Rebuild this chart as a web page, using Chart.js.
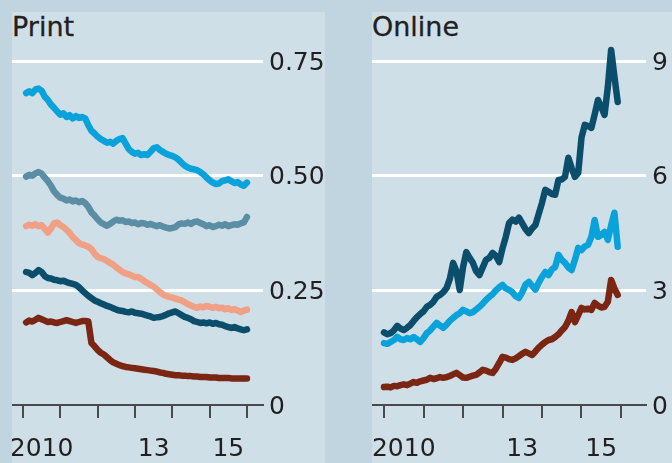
<!DOCTYPE html>
<html>
<head>
<meta charset="utf-8">
<script src="https://cdn.jsdelivr.net/npm/chart.js@4.4.1/dist/chart.umd.min.js"></script>
<style>
  body { margin: 0; width: 672px; height: 463px; background: #c0d5e0; position: relative; overflow: hidden; font-family: "DejaVu Sans", sans-serif; }
  .panel { position: absolute; top: 12px; height: 451px; background: #cfdfe7; }
  .title { position: absolute; top: 1px; left: 0; font-size: 27px; line-height: 27px; color: #231f20; -webkit-text-stroke: 0.3px #231f20; }
  canvas { position: absolute; top: 0; left: 0; }
</style>
</head>
<body>
<div class="panel" style="left:12px;width:313px">
  <div class="title">Print</div>
  <canvas id="printChart" width="313" height="451"></canvas>
</div>
<div class="panel" style="left:372px;width:300px">
  <div class="title">Online</div>
  <canvas id="onlineChart" width="300" height="451"></canvas>
</div>
<script>
// x axis: year boundaries get tick marks, labels sit mid-year
const yearTicks = [2010, 2011, 2012, 2013, 2014, 2015, 2016];
const yearLabelPos = [2010.5, 2013.5, 2015.5];
const yearLabels = ['2010', '13', '15'];

// monthly series, print starts Feb 2010, online starts Jan 2010
const printStart = 2010 + 1 / 12;
const onlineStart = 2010;

const printTicks = [0, 0.25, 0.5, 0.75];
const printTickLabels = ['0', '0.25', '0.50', '0.75'];
const onlineTicks = [0, 3, 6, 9];
const onlineTickLabels = ['0', '3', '6', '9'];

const printCyan = [
  0.680, 0.684, 0.680, 0.688, 0.690, 0.685, 0.672, 0.665, 0.655, 0.648,
  0.640, 0.633, 0.636, 0.628, 0.632, 0.625, 0.630, 0.626, 0.628, 0.625,
  0.610, 0.598, 0.592, 0.585, 0.580, 0.576, 0.572, 0.574, 0.570, 0.576,
  0.580, 0.582, 0.570, 0.558, 0.552, 0.548, 0.550, 0.545, 0.547, 0.545,
  0.552, 0.560, 0.562, 0.556, 0.552, 0.548, 0.545, 0.543, 0.540, 0.535,
  0.528, 0.522, 0.518, 0.515, 0.514, 0.512, 0.508, 0.503, 0.496, 0.490,
  0.485, 0.482, 0.483, 0.488, 0.490, 0.492, 0.488, 0.484, 0.486, 0.481,
  0.478, 0.485
];
const printGrey = [
  0.498, 0.502, 0.500, 0.505, 0.508, 0.504, 0.496, 0.488, 0.478, 0.466,
  0.458, 0.452, 0.450, 0.446, 0.448, 0.444, 0.446, 0.442, 0.445, 0.440,
  0.432, 0.420, 0.413, 0.405, 0.398, 0.394, 0.391, 0.395, 0.400, 0.404,
  0.402, 0.403, 0.399, 0.400, 0.397, 0.398, 0.394, 0.397, 0.396, 0.393,
  0.395, 0.392, 0.390, 0.392, 0.389, 0.387, 0.385, 0.386, 0.388, 0.394,
  0.396, 0.395, 0.398, 0.395, 0.399, 0.400, 0.397, 0.394, 0.390, 0.392,
  0.388, 0.390, 0.393, 0.391, 0.394, 0.390, 0.392, 0.394, 0.393, 0.396,
  0.398, 0.410
];
const printSalmon = [
  0.390, 0.393, 0.391, 0.394, 0.390, 0.392, 0.384, 0.376, 0.385, 0.396,
  0.398, 0.392, 0.388, 0.382, 0.375, 0.366, 0.360, 0.353, 0.350, 0.348,
  0.345, 0.340, 0.330, 0.323, 0.320, 0.318, 0.314, 0.310, 0.306, 0.300,
  0.295, 0.290, 0.287, 0.285, 0.282, 0.279, 0.279, 0.275, 0.270, 0.266,
  0.262, 0.258, 0.252, 0.246, 0.241, 0.238, 0.236, 0.234, 0.232, 0.230,
  0.228, 0.224, 0.220, 0.217, 0.214, 0.212, 0.215, 0.213, 0.216, 0.214,
  0.212, 0.214, 0.211, 0.212, 0.209, 0.211, 0.207, 0.209, 0.206, 0.203,
  0.206, 0.208
];
const printTeal = [
  0.290, 0.288, 0.283, 0.288, 0.294, 0.290, 0.281, 0.277, 0.276, 0.273,
  0.272, 0.270, 0.271, 0.268, 0.266, 0.264, 0.262, 0.257, 0.250, 0.244,
  0.238, 0.233, 0.228, 0.225, 0.222, 0.219, 0.216, 0.214, 0.211, 0.208,
  0.206, 0.205, 0.203, 0.202, 0.204, 0.201, 0.200, 0.199, 0.197, 0.195,
  0.193, 0.190, 0.191, 0.192, 0.194, 0.197, 0.200, 0.202, 0.204, 0.200,
  0.196, 0.192, 0.190, 0.187, 0.183, 0.181, 0.179, 0.180, 0.178, 0.180,
  0.177, 0.179, 0.176, 0.175, 0.172, 0.170, 0.168, 0.170, 0.167, 0.165,
  0.163, 0.165
];
const printRed = [
  0.180, 0.184, 0.182, 0.186, 0.190, 0.187, 0.184, 0.181, 0.182, 0.180,
  0.179, 0.181, 0.183, 0.185, 0.183, 0.181, 0.179, 0.181, 0.183, 0.183,
  0.182, 0.135, 0.128, 0.120, 0.114, 0.110, 0.104, 0.098, 0.093, 0.090,
  0.087, 0.085, 0.083, 0.082, 0.081, 0.080, 0.079, 0.078, 0.077, 0.076,
  0.075, 0.074, 0.073, 0.071, 0.070, 0.068, 0.067, 0.066, 0.065, 0.065,
  0.064, 0.064, 0.063, 0.063, 0.062, 0.062, 0.061, 0.061, 0.061, 0.060,
  0.060, 0.060, 0.059, 0.059, 0.059, 0.059, 0.058, 0.058, 0.058, 0.058,
  0.058, 0.058
];

const onlineTeal = [
  1.90, 1.85, 1.88, 1.95, 2.07, 2.00, 1.96, 2.02, 2.09, 2.20,
  2.30, 2.38, 2.45, 2.57, 2.62, 2.70, 2.83, 2.88, 2.95, 3.06,
  3.30, 3.72, 3.50, 3.01, 3.60, 4.00, 3.85, 3.72, 3.50, 3.40,
  3.60, 3.80, 3.85, 3.98, 3.90, 3.74, 4.10, 4.40, 4.76, 4.85,
  4.80, 4.90, 4.75, 4.60, 4.50, 4.62, 4.71, 5.00, 5.29, 5.63,
  5.58, 5.52, 5.50, 5.89, 5.90, 5.97, 6.47, 6.20, 5.97, 6.07,
  7.00, 7.33, 7.30, 7.25, 7.60, 7.98, 7.80, 7.59, 8.32, 9.29,
  8.60, 7.93
];
const onlineCyan = [
  1.62, 1.60, 1.65, 1.70, 1.78, 1.72, 1.70, 1.75, 1.72, 1.78,
  1.72, 1.65, 1.75, 1.88, 1.95, 2.05, 2.15, 2.08, 2.02, 2.10,
  2.20, 2.28, 2.35, 2.40, 2.49, 2.45, 2.40, 2.43, 2.50, 2.57,
  2.65, 2.75, 2.83, 2.90, 3.00, 3.08, 3.14, 3.05, 3.01, 2.95,
  2.85, 2.80, 2.95, 3.15, 3.22, 3.12, 3.02, 3.20, 3.35, 3.48,
  3.40, 3.55, 3.61, 3.93, 3.80, 3.72, 3.60, 3.53, 3.80, 4.11,
  4.05, 4.15, 4.19, 4.40, 4.84, 4.40, 4.45, 4.53, 4.32, 4.70,
  5.03, 4.14
];
const onlineRed = [
  0.47, 0.48, 0.46, 0.50, 0.49, 0.52, 0.54, 0.52, 0.56, 0.60,
  0.58, 0.62, 0.64, 0.66, 0.71, 0.68, 0.70, 0.73, 0.71, 0.73,
  0.76, 0.80, 0.84, 0.78, 0.72, 0.71, 0.74, 0.77, 0.79, 0.85,
  0.92, 0.90, 0.86, 0.84, 0.95, 1.10, 1.26, 1.24, 1.20, 1.18,
  1.22, 1.28, 1.34, 1.39, 1.35, 1.31, 1.40, 1.50, 1.58, 1.65,
  1.70, 1.72, 1.78, 1.85, 1.95, 2.04, 2.20, 2.43, 2.17, 2.35,
  2.54, 2.50, 2.52, 2.49, 2.67, 2.60, 2.55, 2.57, 2.70, 3.27,
  3.05, 2.88
];

const COLORS = {
  cyan: '#0aa2da',
  grey: '#5b8ea4',
  salmon: '#f0a084',
  teal: '#0b4e6b',
  red: '#7b2513'
};
const FONT = { family: '"DejaVu Sans", sans-serif', size: 25 };
const TEXT = '#231f20';
const AXIS = '#4a4a4a';

const toPoints = (values, start) => values.map((v, i) => ({ x: start + i / 12, y: v }));

const lineSet = (values, start, color) => ({
  data: toPoints(values, start),
  borderColor: color,
  backgroundColor: color,
  borderWidth: 6.5,
  pointRadius: 0,
  tension: 0,
  borderJoinStyle: 'round',
  borderCapStyle: 'round',
  fill: false
});

// keep the plot area flush with the panel edge: no auto padding for overflowing labels
const noSidePadding = s => { s.paddingLeft = 0; s.paddingRight = 0; };

function buildOptions(cfg) {
  return {
    responsive: false,
    animation: false,
    layout: { padding: { top: 33, left: 0, right: 0, bottom: 0 } },
    plugins: { legend: { display: false }, tooltip: { enabled: false } },
    scales: {
      x: {
        type: 'linear', position: 'bottom', weight: 1,
        min: cfg.xMin, max: cfg.xMax,
        afterBuildTicks: s => { s.ticks = yearTicks.map(v => ({ value: v })); },
        afterFit: s => { s.height = 14; noSidePadding(s); },
        grid: { drawOnChartArea: false, drawTicks: true, tickLength: 13, tickWidth: 2, tickColor: AXIS, color: AXIS, lineWidth: 2 },
        border: { display: true, color: AXIS, width: 2 },
        ticks: { display: false }
      },
      xl: {
        type: 'linear', position: 'bottom', weight: 2,
        min: cfg.xMin, max: cfg.xMax,
        afterBuildTicks: s => { s.ticks = yearLabelPos.map(v => ({ value: v })); },
        afterFit: s => { s.height = 44; noSidePadding(s); },
        grid: { display: false, drawTicks: false },
        border: { display: false },
        ticks: { padding: 15, maxRotation: 0, autoSkip: false, font: FONT, color: TEXT, callback: (v, i) => yearLabels[i] }
      },
      y: {
        position: 'right', min: 0, max: cfg.yMax,
        afterBuildTicks: s => { s.ticks = cfg.yTicks.map(v => ({ value: v })); },
        afterFit: s => { s.width = cfg.yWidth; },
        grid: {
          drawTicks: false, lineWidth: 3,
          color: c => (c.tick && c.tick.value === 0) ? 'rgba(0,0,0,0)' : '#ffffff'
        },
        border: { display: false },
        ticks: { padding: 6, labelOffset: 2, font: FONT, color: TEXT, autoSkip: false, callback: (v, i) => cfg.yLabels[i] }
      }
    }
  };
}

new Chart(document.getElementById('printChart'), {
  type: 'line',
  data: {
    datasets: [
      lineSet(printCyan, printStart, COLORS.cyan),
      lineSet(printGrey, printStart, COLORS.grey),
      lineSet(printSalmon, printStart, COLORS.salmon),
      lineSet(printTeal, printStart, COLORS.teal),
      lineSet(printRed, printStart, COLORS.red)
    ]
  },
  options: buildOptions({
    xMin: 2009.705, xMax: 2016.43,
    yMax: 0.785, yTicks: printTicks, yLabels: printTickLabels, yWidth: 62
  })
});

new Chart(document.getElementById('onlineChart'), {
  type: 'line',
  data: {
    datasets: [
      lineSet(onlineTeal, onlineStart, COLORS.teal),
      lineSet(onlineCyan, onlineStart, COLORS.cyan),
      lineSet(onlineRed, onlineStart, COLORS.red)
    ]
  },
  options: buildOptions({
    xMin: 2009.696, xMax: 2016.633,
    yMax: 9.419, yTicks: onlineTicks, yLabels: onlineTickLabels, yWidth: 26
  })
});
</script>
</body>
</html>
